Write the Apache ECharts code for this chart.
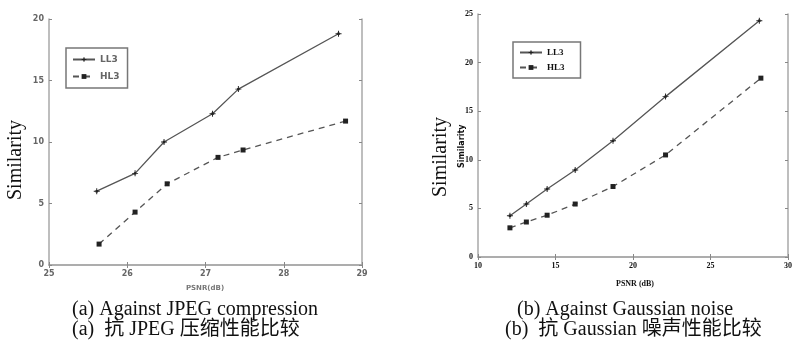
<!DOCTYPE html>
<html>
<head>
<meta charset="utf-8">
<script src="https://cdn.jsdelivr.net/npm/echarts@6/dist/echarts.min.js"></script>
<style>html,body{margin:0;padding:0;background:#fff}#c{width:795px;height:347px}</style>
</head>
<body>
<div id="c"></div>
<script>
// (a) JPEG compression
const jpegPsnrLL3 = [25.61, 26.10, 26.47, 27.09, 27.42, 28.70];
const jpegLL3     = [6.0, 7.45, 10.0, 12.3, 14.3, 18.8];
const jpegPsnrHL3 = [25.64, 26.10, 26.51, 27.16, 27.48, 28.79];
const jpegHL3     = [1.7, 4.3, 6.6, 8.75, 9.35, 11.7];
// (b) Gaussian noise
const gaussPsnrLL3 = [12.06, 13.12, 14.46, 16.27, 18.71, 22.10, 28.15];
const gaussLL3     = [4.25, 5.45, 7.0, 8.95, 11.95, 16.5, 24.3];
const gaussPsnrHL3 = [12.06, 13.12, 14.46, 16.27, 18.71, 22.10, 28.25];
const gaussHL3     = [3.0, 3.6, 4.3, 5.45, 7.25, 10.5, 18.4];

const seriesNames = ['LL3', 'HL3'];
const yTitle = 'Similarity';
const xTitleA = 'PSNR(dB)';
const xTitleB = 'PSNR (dB)';
const captionA1 = '(a) Against JPEG compression';
const captionA2 = '(a)  抗 JPEG 压缩性能比较';
const captionB1 = '(b) Against Gaussian noise';
const captionB2 = '(b)  抗 Gaussian 噪声性能比较';

const zip = (xs, ys) => xs.map((x, i) => [x, ys[i]]);

const axisLine = {show: true, lineStyle: {color: '#a8a8a8', width: 1.5}};
const tick = {show: true, inside: true, length: 3, lineStyle: {color: '#888'}};
const lblA = {fontSize: 8, color: '#666', fontFamily: 'DejaVu Sans', fontWeight: 'bold'};
const lblB = {fontSize: 8, color: '#111', fontFamily: 'Liberation Serif', fontWeight: 'bold'};
const lineColor = '#555';
const markColor = '#222';
const plusPath = 'path://M0,4.2H10V5.8H0Z M4.2,0H5.8V10H4.2Z M3,3H7V7H3Z';
const capFont = '20px "Liberation Serif", "Noto Sans CJK SC"';

function mkX(gi, min, max, lbl, pos, show) {
  return {type: 'value', gridIndex: gi, min, max, interval: (max - min) / 4, position: pos,
    axisLine, axisTick: tick, splitLine: {show: false},
    axisLabel: show ? Object.assign({margin: 5}, lbl) : {show: false}};
}
function mkY(gi, min, max, interval, lbl, pos, show) {
  return {type: 'value', gridIndex: gi, min, max, interval, position: pos,
    axisLine, axisTick: tick, splitLine: {show: false},
    axisLabel: show ? Object.assign({margin: 5}, lbl) : {show: false}};
}
function ser(name, data, xi, yi, dashed) {
  return {name, type: 'line', xAxisIndex: xi, yAxisIndex: yi, data,
    symbol: dashed ? 'rect' : plusPath, symbolSize: dashed ? 5 : 6,
    itemStyle: {color: markColor},
    lineStyle: {color: lineColor, width: 1.3, type: dashed ? [6, 5] : 'solid'},
    animation: false};
}
function legend(left, top, lbl, pad, gap) {
  return {data: seriesNames, orient: 'vertical', left, top,
    itemWidth: 22, itemHeight: 6, itemGap: gap, padding: pad,
    borderColor: '#777', borderWidth: 1.5, selectedMode: false,
    textStyle: Object.assign({}, lbl, {fontSize: 9})};
}
function cap(x, y, text) {
  return {type: 'text', x, y, style: {text, font: capFont, fill: '#111', verticalAlign: 'middle'}};
}

const chart = echarts.init(document.getElementById('c'), null, {renderer: 'canvas'});
chart.setOption({
  backgroundColor: '#fff',
  animation: false,
  grid: [
    {left: 49, top: 19, width: 313, height: 246},
    {left: 478, top: 14, width: 314, height: 243}
  ],
  xAxis: [
    mkX(0, 25, 29, lblA, 'bottom', true),
    mkX(0, 25, 29, lblA, 'top', false),
    mkX(1, 10, 30, lblB, 'bottom', true),
    mkX(1, 10, 30, lblB, 'top', false)
  ],
  yAxis: [
    mkY(0, 0, 20, 5, lblA, 'left', true),
    mkY(0, 0, 20, 5, lblA, 'right', false),
    mkY(1, 0, 25, 5, lblB, 'left', true),
    mkY(1, 0, 25, 5, lblB, 'right', false)
  ],
  legend: [legend(66, 48, lblA, [7, 8, 7, 6], 8), legend(513, 42, lblB, [6, 16, 6, 6], 6)],
  series: [
    ser('LL3', zip(jpegPsnrLL3, jpegLL3), 0, 0, false),
    ser('HL3', zip(jpegPsnrHL3, jpegHL3), 0, 0, true),
    ser('LL3', zip(gaussPsnrLL3, gaussLL3), 2, 2, false),
    ser('HL3', zip(gaussPsnrHL3, gaussHL3), 2, 2, true)
  ],
  graphic: [
    {type: 'text', x: 6, y: 200, rotation: Math.PI / 2, style: {text: yTitle, font: '20px "Liberation Serif"', fill: '#111'}},
    {type: 'text', x: 431, y: 197, rotation: Math.PI / 2, style: {text: yTitle, font: '20px "Liberation Serif"', fill: '#111'}},
    {type: 'text', x: 458, y: 168, rotation: Math.PI / 2, style: {text: yTitle, font: 'bold 8px "DejaVu Sans"', fill: '#111'}},
    {type: 'text', x: 205, y: 288, style: {text: xTitleA, font: 'bold 7px "DejaVu Sans"', fill: '#777', align: 'center', verticalAlign: 'middle'}},
    {type: 'text', x: 635, y: 284, style: {text: xTitleB, font: 'bold 8px "Liberation Serif"', fill: '#111', align: 'center', verticalAlign: 'middle'}},
    cap(72, 310, captionA1),
    cap(72, 330, captionA2),
    cap(517, 310, captionB1),
    cap(505, 330, captionB2)
  ]
});
</script>
</body>
</html>
